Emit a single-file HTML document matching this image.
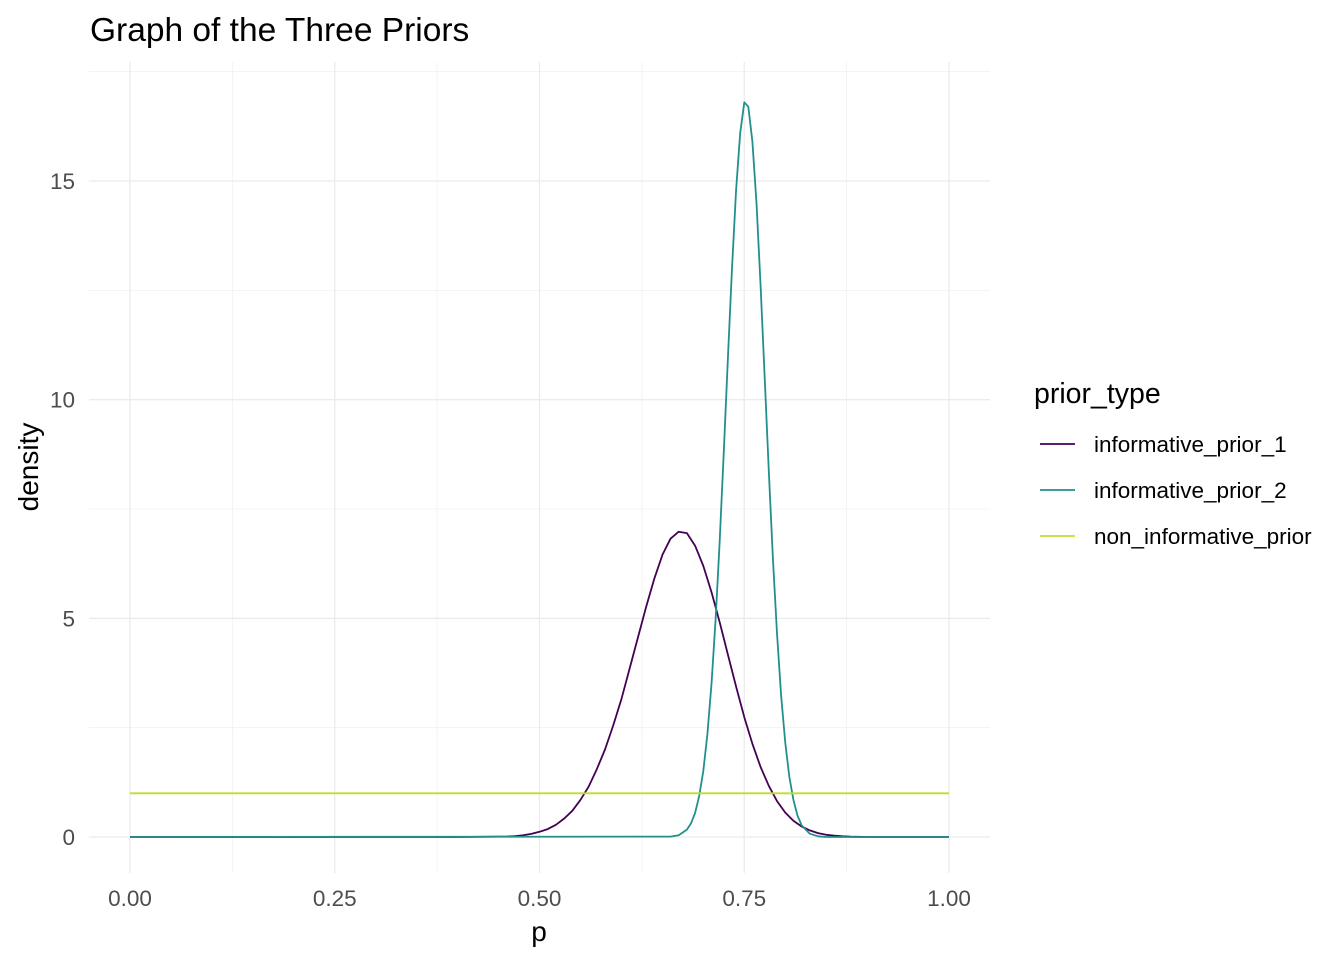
<!DOCTYPE html>
<html><head><meta charset="utf-8"><style>
body{margin:0;background:#fff;font-family:"Liberation Sans",sans-serif;}
svg text{font-family:"Liberation Sans",sans-serif;}
</style></head><body>
<svg id="chart" width="1344" height="960">
<text x="90" y="41" font-size="33.5" fill="#000">Graph of the Three Priors</text>
<g id="grid"></g>
<g id="axes"></g>
<g id="series"></g>
<text x="539" y="941" font-size="28" text-anchor="middle" fill="#000">p</text>
<text transform="translate(38,467) rotate(-90)" font-size="28" text-anchor="middle" fill="#000">density</text>
<g id="legend">
<text x="1034" y="403" font-size="28.5" fill="#000">prior_type</text>
</g>
</svg>
<script>
const xTicks=[0,0.25,0.5,0.75,1];
const xTickLabels=["0.00","0.25","0.50","0.75","1.00"];
const yTicks=[0,5,10,15];
const yTickLabels=["0","5","10","15"];
const seriesNames=["informative_prior_1","informative_prior_2","non_informative_prior"];
const seriesColors=["#440154","#21908C","#BDDF26"];
const p1X=[0,0.40,0.45,0.46,0.47,0.48,0.49,0.50,0.51,0.52,0.53,0.54,0.55,0.56,0.57,0.58,0.59,0.60,0.61,0.62,0.63,0.64,0.65,0.66,0.67,0.68,0.69,0.70,0.71,0.72,0.73,0.74,0.75,0.76,0.77,0.78,0.79,0.80,0.81,0.82,0.83,0.84,0.85,0.86,0.87,0.88,0.89,0.90,1];
const p1Y=[0,0.0,0.01,0.01,0.02,0.04,0.07,0.12,0.18,0.28,0.42,0.6,0.85,1.15,1.55,2.0,2.55,3.15,3.85,4.55,5.25,5.9,6.45,6.82,6.98,6.95,6.66,6.2,5.6,4.91,4.17,3.44,2.74,2.13,1.6,1.17,0.82,0.56,0.37,0.24,0.15,0.09,0.05,0.03,0.015,0.008,0.004,0,0];
const p2X=[0,0.66,0.67,0.68,0.685,0.69,0.695,0.70,0.705,0.71,0.715,0.72,0.725,0.73,0.735,0.74,0.745,0.75,0.755,0.76,0.765,0.77,0.775,0.78,0.785,0.79,0.795,0.80,0.805,0.81,0.815,0.82,0.83,0.84,0.85,1];
const p2Y=[0,0.009,0.042,0.17,0.31,0.55,0.94,1.51,2.35,3.5,4.97,6.77,8.81,10.95,13.0,14.8,16.1,16.8,16.7,15.9,14.5,12.6,10.5,8.37,6.37,4.66,3.24,2.17,1.38,0.85,0.49,0.27,0.075,0.017,0,0];
const p3X=[0,1];
const p3Y=[1,1];

const NS="http://www.w3.org/2000/svg";
const X=v=>130+v*819, Y=v=>837-v*43.733;
function mk(tag,attrs,parent){const e=document.createElementNS(NS,tag);for(const k in attrs)e.setAttribute(k,attrs[k]);parent.appendChild(e);return e;}
const grid=document.getElementById('grid'),axes=document.getElementById('axes'),ser=document.getElementById('series'),leg=document.getElementById('legend');
const L=89,R=990,T=62,B=873;
for(let v=0.125;v<1;v+=0.25){const l=mk('line',{x1:X(v),x2:X(v),y1:T,y2:B,stroke:'#f0f0f0','stroke-width':0.8},grid);

}
for(let v=2.5;v<18;v+=5){const l=mk('line',{x1:L,x2:R,y1:Y(v),y2:Y(v),stroke:'#f0f0f0','stroke-width':0.8},grid);

}
xTicks.forEach((v,i)=>{const l=mk('line',{x1:X(v),x2:X(v),y1:T,y2:B,stroke:'#ebebeb','stroke-width':1.3},grid);


const t=mk('text',{x:X(v),y:906,'font-size':22.5,'text-anchor':'middle',fill:'#4d4d4d'},axes);t.textContent=xTickLabels[i];

});
yTicks.forEach((v,i)=>{const l=mk('line',{x1:L,x2:R,y1:Y(v),y2:Y(v),stroke:'#ebebeb','stroke-width':1.3},grid);


const t=mk('text',{x:75,y:Y(v)+8,'font-size':22.5,'text-anchor':'end',fill:'#4d4d4d'},axes);t.textContent=yTickLabels[i];

});
function line(xs,ys,c,name){const d=xs.map((x,i)=>(i?'L':'M')+X(x).toFixed(1)+','+Y(ys[i]).toFixed(1)).join('');
const p=mk('path',{d:d,fill:'none',stroke:c,'stroke-width':1.8,'stroke-linejoin':'round'},ser);

}
line(p1X,p1Y,seriesColors[0],'informative-prior-1-line');
line(p2X,p2Y,seriesColors[1],'informative-prior-2-line');
line(p3X,p3Y,seriesColors[2],'non-informative-prior-line');
seriesNames.forEach((n,i)=>{const y=444+i*46;
const k=mk('line',{x1:1040,x2:1075,y1:y,y2:y,stroke:seriesColors[i],'stroke-width':1.8},leg);


const t=mk('text',{x:1094,y:y+8,'font-size':22.5,fill:'#000'},leg);t.textContent=n;

});
</script>
</body></html>
